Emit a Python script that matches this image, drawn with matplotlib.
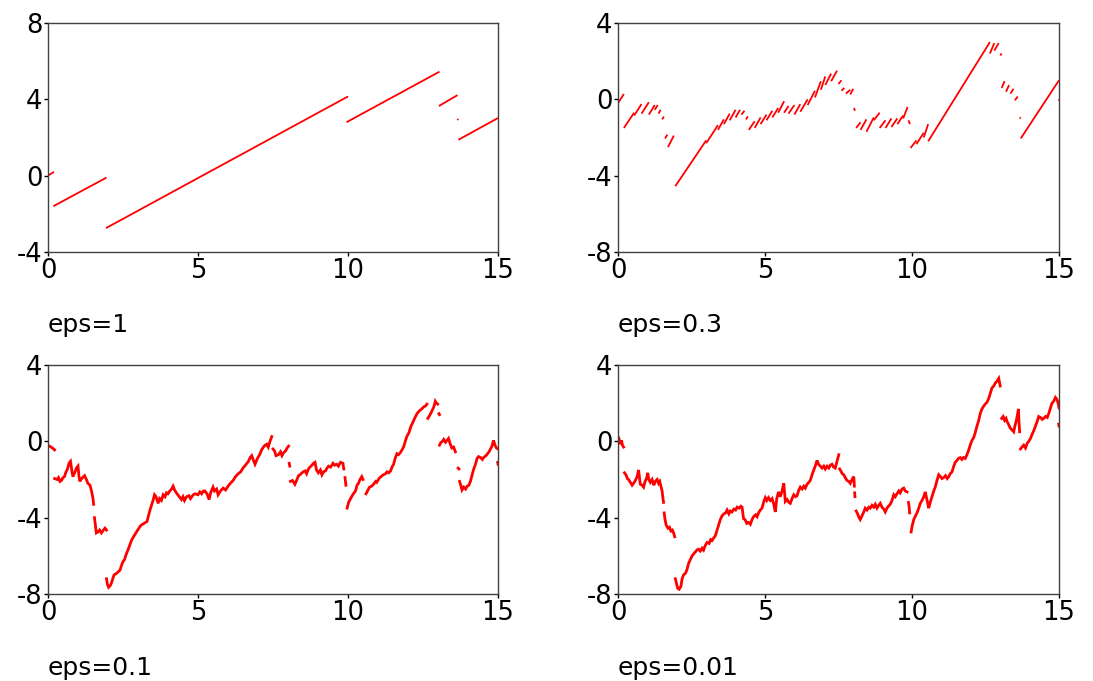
import numpy as np
import matplotlib
matplotlib.use("Agg")
import matplotlib.pyplot as plt

plt.rcParams['font.family'] = ['DejaVu Sans']
plt.rcParams['axes.unicode_minus'] = False

# ---------------- data ----------------
titles = ["eps=1", "eps=0.3", "eps=0.1", "eps=0.01"]
x_ticks = [0, 5, 10, 15]
y_ticks_1 = [-4, 0, 4, 8]
y_ticks_other = [-8, -4, 0, 4]

# panel eps=1 : straight pieces (x0, y0, x1, y1)
p1_x0 = [0.00, 0.18, 1.93, 9.95, 13.03, 13.64, 13.68]
p1_y0 = [0.00, -1.60, -2.75, 2.80, 3.65, 2.92, 1.88]
p1_x1 = [0.20, 1.95, 10.00, 13.05, 13.65, 13.68, 15.00]
p1_y1 = [0.20, -0.10, 4.15, 5.45, 4.22, 2.97, 3.02]

# panel eps=0.3 : short dashes (x0, y0, x1, y1)
p2_x0 = [0.00, 0.20, 0.55, 0.80, 1.05, 1.25, 1.38, 1.50, 1.60, 1.70,
         1.95, 3.00, 3.40, 3.60, 3.80, 4.00, 4.20, 4.35,
         4.45, 4.65, 4.85, 5.05, 5.25, 5.45, 5.65, 5.80, 6.00, 6.20, 6.45, 6.70, 6.90, 7.05, 7.25,
         7.50, 7.60, 7.75, 7.90, 8.03,
         8.10, 8.25, 8.45, 8.70, 8.90, 9.10, 9.30, 9.50, 9.70, 9.88,
         9.95, 10.15, 10.40, 10.55,
         12.65, 12.80, 13.00, 13.05, 13.20, 13.35, 13.50, 13.66, 13.70, 14.98]
p2_y0 = [-0.20, -1.50, -0.85, -0.75, -0.80, -0.55, -0.75, -1.05, -2.05, -2.50,
         -4.55, -2.30, -1.60, -1.30, -1.10, -0.95, -0.80, -1.05,
         -1.60, -1.50, -1.30, -1.10, -0.95, -0.70, -0.70, -0.75, -0.80, -0.65, -0.30, 0.10, 0.50, 0.75, 0.95,
         0.80, 0.45, 0.30, 0.25, -0.45,
         -1.50, -1.60, -1.70, -1.10, -1.50, -1.50, -1.45, -1.30, -1.00, -1.10,
         -2.55, -2.35, -2.00, -2.20,
         2.40, 2.55, 2.30, 0.60, 0.40, 0.30, -0.05, -0.95, -2.05, 0.00]
p2_x1 = [0.20, 0.55, 0.80, 1.05, 1.25, 1.35, 1.45, 1.56, 1.68, 1.90,
         3.00, 3.40, 3.60, 3.80, 4.00, 4.15, 4.30, 4.42,
         4.65, 4.85, 5.05, 5.25, 5.45, 5.65, 5.80, 6.00, 6.20, 6.45, 6.70, 6.90, 7.05, 7.25, 7.45,
         7.60, 7.70, 7.90, 8.00, 8.06,
         8.25, 8.45, 8.70, 8.90, 9.10, 9.30, 9.50, 9.70, 9.85, 9.93,
         10.15, 10.40, 10.55, 12.65,
         12.80, 12.95, 13.05, 13.15, 13.30, 13.45, 13.60, 13.70, 15.00, 15.00]
p2_y1 = [0.28, -0.70, -0.25, -0.15, -0.30, -0.30, -0.55, -0.90, -1.85, -1.90,
         -2.15, -1.35, -1.05, -0.75, -0.55, -0.55, -0.60, -0.90,
         -1.15, -0.95, -0.80, -0.60, -0.45, -0.10, -0.35, -0.30, -0.25, 0.00, 0.45, 0.95, 1.20, 1.35, 1.50,
         1.00, 0.60, 0.50, 0.55, -0.60,
         -1.20, -1.05, -0.95, -0.70, -1.10, -1.00, -1.00, -0.85, -0.40, -1.30,
         -2.15, -1.75, -1.30, 3.00,
         2.95, 2.95, 2.40, 0.95, 0.75, 0.55, 0.15, -1.00, 1.00, -0.05]

# panel eps=0.1 : continuous pieces
p3_x = [
    [0.00, 0.05, 0.10, 0.15, 0.22],
    [0.22, 0.30, 0.35, 0.40, 0.45, 0.50, 0.55, 0.60, 0.65, 0.70, 0.75, 0.80, 0.83, 0.90, 0.95, 1.00,
     1.03, 1.06, 1.10, 1.15, 1.22, 1.28, 1.33, 1.40, 1.45, 1.50, 1.52],
    [1.55, 1.58, 1.61, 1.67, 1.72, 1.78, 1.85, 1.90, 1.95],
    [1.95, 1.98, 2.02, 2.08, 2.12, 2.20, 2.30, 2.40, 2.45, 2.50, 2.55, 2.60, 2.70, 2.78, 2.85, 2.95,
     3.05, 3.10, 3.20, 3.30, 3.35, 3.40, 3.50, 3.55, 3.60, 3.67, 3.72, 3.78, 3.84, 3.90, 3.95, 4.00,
     4.06, 4.12, 4.17, 4.22, 4.28, 4.35, 4.45, 4.50, 4.55, 4.62, 4.70, 4.75, 4.84, 4.90, 5.00, 5.06,
     5.12, 5.18, 5.23, 5.30, 5.37, 5.42, 5.50, 5.55, 5.62, 5.67, 5.75, 5.84, 5.92, 6.00, 6.08, 6.17,
     6.25, 6.34, 6.42, 6.50, 6.58, 6.68, 6.74, 6.79, 6.85, 6.90, 6.98, 7.07, 7.12, 7.18, 7.24, 7.29,
     7.34, 7.40, 7.46],
    [7.50, 7.55, 7.60, 7.68, 7.75, 7.80, 7.85, 7.92, 7.97, 8.02],
    [8.04, 8.06],
    [8.08, 8.15, 8.23, 8.30, 8.35, 8.40, 8.50, 8.57, 8.62, 8.68, 8.73, 8.80, 8.85, 8.90, 8.95, 9.01,
     9.08, 9.13, 9.18, 9.25, 9.30, 9.35, 9.42, 9.50, 9.55, 9.62, 9.68, 9.75, 9.83, 9.86],
    [9.90, 9.93],
    [9.97, 10.02, 10.07, 10.12, 10.18, 10.25, 10.30, 10.35, 10.40, 10.46, 10.50],
    [10.60, 10.65, 10.72, 10.79, 10.85, 10.92, 10.96, 11.03, 11.10, 11.18, 11.25, 11.30, 11.36, 11.42,
     11.48, 11.52, 11.57, 11.63, 11.68, 11.74, 11.80, 11.85, 11.90, 11.96, 12.03, 12.10, 12.15, 12.22,
     12.30, 12.38, 12.46, 12.52, 12.58, 12.63],
    [12.66, 12.72, 12.80, 12.86, 12.91, 12.95, 12.99],
    [13.03, 13.05],
    [13.05, 13.10, 13.15, 13.19, 13.25, 13.30, 13.35, 13.40, 13.46, 13.52, 13.58],
    [13.67, 13.70],
    [13.72, 13.76, 13.80, 13.86, 13.92, 13.97, 14.03, 14.08, 14.13, 14.19, 14.25, 14.30, 14.35, 14.42,
     14.48, 14.52, 14.60, 14.65, 14.70, 14.75, 14.80, 14.85, 14.90, 14.95, 15.00],
    [14.99, 15.00],
]
p3_y = [
    [-0.20, -0.25, -0.30, -0.35, -0.45],
    [-1.95, -2.00, -1.90, -2.10, -2.05, -1.90, -1.85, -1.60, -1.45, -1.15, -1.05, -1.60, -1.85, -1.60,
     -1.40, -1.30, -1.80, -2.10, -2.00, -1.90, -1.80, -2.00, -2.20, -2.30, -2.60, -3.00, -3.30],
    [-4.00, -4.40, -4.80, -4.75, -4.65, -4.80, -4.65, -4.55, -4.65],
    [-7.20, -7.50, -7.65, -7.55, -7.40, -7.00, -6.90, -6.75, -6.50, -6.30, -6.20, -5.95, -5.55, -5.20,
     -5.00, -4.75, -4.50, -4.40, -4.30, -4.20, -3.90, -3.60, -3.10, -2.80, -2.90, -3.25, -3.00, -3.10,
     -2.80, -2.90, -2.70, -2.75, -2.60, -2.50, -2.35, -2.55, -2.70, -2.85, -3.05, -2.90, -3.10, -2.90,
     -2.85, -3.00, -2.80, -2.75, -2.80, -2.65, -2.75, -2.60, -2.60, -2.75, -3.05, -2.70, -2.40, -2.60,
     -2.50, -2.80, -2.60, -2.45, -2.55, -2.35, -2.20, -2.05, -1.85, -1.70, -1.60, -1.40, -1.25, -1.05,
     -0.85, -0.75, -1.00, -1.20, -0.90, -0.65, -0.45, -0.30, -0.20, -0.15, -0.30, 0.00, 0.25],
    [-0.40, -0.50, -0.75, -0.70, -0.55, -0.75, -0.60, -0.50, -0.35, -0.25],
    [-1.15, -1.30],
    [-2.10, -2.05, -2.25, -2.00, -1.80, -1.75, -1.60, -1.55, -1.70, -1.45, -1.35, -1.25, -1.15, -1.10,
     -1.50, -1.65, -1.50, -1.75, -1.60, -1.55, -1.40, -1.30, -1.35, -1.15, -1.25, -1.20, -1.30, -1.10,
     -1.15, -1.45],
    [-1.90, -2.30],
    [-3.50, -3.20, -3.05, -2.90, -2.75, -2.60, -2.30, -2.20, -2.00, -1.85, -2.00],
    [-2.75, -2.60, -2.40, -2.35, -2.25, -2.10, -2.15, -1.95, -1.85, -1.75, -1.70, -1.60, -1.65, -1.55,
     -1.30, -1.20, -0.90, -0.65, -0.70, -0.60, -0.45, -0.30, -0.05, 0.25, 0.45, 0.80, 0.95, 1.20, 1.45,
     1.60, 1.70, 1.80, 1.85, 1.95],
    [1.20, 1.35, 1.60, 1.80, 2.10, 2.00, 1.95],
    [1.45, 1.40],
    [-0.20, -0.05, 0.00, 0.10, -0.05, 0.05, 0.15, -0.10, -0.35, -0.30, -0.55],
    [-1.40, -1.45],
    [-2.10, -2.30, -2.55, -2.40, -2.50, -2.35, -2.30, -2.10, -1.80, -1.45, -1.20, -0.90, -0.80, -0.85,
     -0.95, -0.85, -0.75, -0.65, -0.55, -0.40, -0.25, 0.05, -0.20, -0.35, -0.40],
    [-1.10, -1.20],
]

# panel eps=0.01 : continuous pieces
p4_x = [
    [0.00, 0.04, 0.08, 0.12, 0.15, 0.19],
    [0.22, 0.27, 0.32, 0.36, 0.42, 0.48, 0.53, 0.59, 0.65, 0.70, 0.73, 0.76, 0.82, 0.87, 0.92, 0.97,
     1.01, 1.05, 1.10, 1.16, 1.22, 1.27, 1.33, 1.38, 1.42, 1.46, 1.50, 1.53, 1.55],
    [1.57, 1.60, 1.64, 1.70, 1.75, 1.80, 1.85, 1.89, 1.93],
    [1.95, 1.99, 2.03, 2.08, 2.14, 2.18, 2.23, 2.30, 2.35, 2.40, 2.46, 2.52, 2.57, 2.63, 2.68, 2.74,
     2.80, 2.86, 2.91, 2.97, 3.03, 3.10, 3.15, 3.20, 3.26, 3.31, 3.36, 3.42, 3.48, 3.54, 3.60, 3.66,
     3.71, 3.77, 3.82, 3.88, 3.94, 4.00, 4.05, 4.12, 4.18, 4.22, 4.27, 4.32, 4.38, 4.44, 4.50, 4.56,
     4.61, 4.68, 4.73, 4.78, 4.84, 4.90, 4.95, 5.01, 5.06, 5.12, 5.18, 5.24, 5.30, 5.35, 5.40, 5.46,
     5.52, 5.58, 5.64, 5.69, 5.75, 5.81, 5.86, 5.92, 5.98, 6.04, 6.09, 6.15, 6.20, 6.26, 6.32, 6.37,
     6.43, 6.49, 6.54, 6.60, 6.66, 6.72, 6.77, 6.82, 6.88, 6.94, 7.00, 7.05, 7.11, 7.17, 7.22, 7.28,
     7.33, 7.39, 7.45, 7.51],
    [7.54, 7.58, 7.63, 7.68, 7.73, 7.79, 7.85, 7.90, 7.96, 8.02, 8.04],
    [8.05, 8.06],
    [8.10, 8.15, 8.20, 8.24, 8.30, 8.36, 8.41, 8.47, 8.53, 8.58, 8.64, 8.70, 8.75, 8.81, 8.87, 8.92,
     8.98, 9.04, 9.09, 9.15, 9.20, 9.26, 9.32, 9.38, 9.43, 9.49, 9.55, 9.60, 9.66, 9.72, 9.77, 9.83],
    [9.88, 9.90, 9.92],
    [9.97, 10.01, 10.06, 10.12, 10.17, 10.23, 10.28, 10.34, 10.40, 10.45, 10.50, 10.57, 10.62, 10.68,
     10.74, 10.79, 10.85, 10.91, 10.97, 11.02, 11.08, 11.14, 11.20, 11.25, 11.30, 11.36, 11.41, 11.47,
     11.53, 11.58, 11.64, 11.70, 11.75, 11.81, 11.87, 11.93, 11.98, 12.04, 12.10, 12.15, 12.21, 12.27,
     12.32, 12.38, 12.44, 12.49, 12.55, 12.61, 12.66, 12.72, 12.78, 12.83, 12.89, 12.95, 13.00],
    [13.05, 13.10, 13.15, 13.20, 13.23, 13.28, 13.34, 13.40, 13.46, 13.50, 13.55, 13.60, 13.62, 13.64,
     13.66],
    [13.69, 13.74, 13.80, 13.86, 13.92, 13.97, 14.03, 14.08, 14.14, 14.20, 14.26, 14.31, 14.37, 14.43,
     14.48, 14.54, 14.60, 14.65, 14.71, 14.76, 14.82, 14.88, 14.93, 14.97, 15.00],
    [14.99, 15.00],
]
p4_y = [
    [0.00, 0.10, -0.15, 0.05, -0.20, -0.30],
    [-1.65, -1.75, -1.95, -2.00, -2.15, -2.30, -2.20, -2.05, -1.85, -1.50, -1.90, -2.25, -2.30, -2.40,
     -2.10, -1.95, -1.65, -2.00, -2.15, -2.00, -2.30, -2.10, -2.00, -2.20, -2.10, -2.35, -2.60, -3.00,
     -3.20],
    [-3.75, -4.10, -4.40, -4.55, -4.50, -4.70, -4.65, -4.80, -5.00],
    [-7.20, -7.45, -7.70, -7.75, -7.60, -7.20, -7.00, -6.90, -6.70, -6.40, -6.20, -6.00, -5.90, -5.80,
     -5.70, -5.65, -5.75, -5.60, -5.70, -5.45, -5.30, -5.35, -5.15, -5.20, -5.05, -4.95, -4.70, -4.40,
     -4.10, -3.90, -3.80, -3.75, -3.60, -3.80, -3.65, -3.70, -3.55, -3.60, -3.45, -3.50, -3.40, -3.45,
     -4.05, -4.10, -4.30, -4.25, -4.35, -4.10, -3.95, -3.85, -3.95, -3.75, -3.60, -3.50, -3.20, -2.95,
     -3.10, -2.95, -3.10, -3.00, -3.30, -3.70, -3.00, -2.65, -2.90, -2.60, -2.20, -3.15, -3.05, -3.20,
     -3.25, -3.00, -2.80, -2.90, -2.85, -2.55, -2.40, -2.50, -2.35, -2.45, -2.25, -2.15, -2.05, -1.75,
     -1.50, -1.25, -1.00, -1.20, -1.30, -1.40, -1.30, -1.45, -1.30, -1.40, -1.25, -1.20, -1.35, -1.40,
     -1.05, -0.70],
    [-1.45, -1.55, -1.70, -1.75, -1.90, -2.05, -2.10, -2.20, -2.00, -1.85, -2.35],
    [-2.70, -2.90],
    [-3.65, -3.80, -4.00, -4.10, -3.90, -3.70, -3.50, -3.60, -3.45, -3.50, -3.35, -3.45, -3.30, -3.50,
     -3.35, -3.25, -3.45, -3.55, -3.70, -3.50, -3.40, -3.30, -3.10, -2.80, -2.90, -2.75, -2.60, -2.70,
     -2.50, -2.45, -2.60, -2.65],
    [-3.20, -3.40, -3.75],
    [-4.75, -4.40, -4.10, -3.90, -3.75, -3.50, -3.25, -3.10, -2.90, -2.65, -3.00, -3.50, -3.20, -2.90,
     -2.60, -2.40, -2.05, -1.75, -1.85, -1.95, -1.90, -1.80, -1.95, -1.85, -1.70, -1.60, -1.35, -1.10,
     -1.00, -0.90, -0.85, -0.95, -0.85, -0.90, -0.70, -0.45, -0.20, 0.05, 0.20, 0.45, 0.80, 1.10, 1.45,
     1.70, 1.85, 1.95, 2.05, 2.25, 2.50, 2.80, 2.90, 3.05, 3.15, 3.30, 2.90],
    [1.20, 1.30, 1.10, 1.20, 1.05, 0.90, 0.70, 0.60, 0.50, 0.80, 1.10, 1.50, 1.70, 1.00, 0.50],
    [-0.40, -0.30, -0.20, -0.35, -0.10, 0.00, 0.15, 0.35, 0.55, 0.80, 1.05, 1.30, 1.25, 1.15, 1.20,
     1.30, 1.25, 1.45, 1.75, 2.00, 2.10, 2.30, 2.20, 2.00, 1.75],
    [0.90, 0.80],
]

# ---------------- figure ----------------
W, H = 1093, 681
fig = plt.figure(figsize=(W / 100, H / 100), dpi=100)
fig.patch.set_facecolor('white')

def frac_rect(l, t, r, b):
    return [l / W, 1 - b / H, (r - l) / W, (b - t) / H]

rects = [frac_rect(48, 23, 498, 252), frac_rect(618, 23, 1059, 252),
         frac_rect(48, 365, 498, 594), frac_rect(618, 365, 1059, 594)]
label_pos = [(48, 325), (618, 325), (48, 668), (618, 668)]

RED = '#ff0000'
axes = []
for i, r in enumerate(rects):
    ax = fig.add_axes(r)
    axes.append(ax)
    ax.set_xlim(0, 15)
    if i == 0:
        ax.set_ylim(-4, 8)
        ax.set_yticks(y_ticks_1)
    else:
        ax.set_ylim(-8, 4)
        ax.set_yticks(y_ticks_other)
    ax.set_xticks(x_ticks)
    ax.tick_params(direction='out', length=3, width=1, pad=1.0,
                   labelsize=18.5, colors='#000000')
    for s in ax.spines.values():
        s.set_color('#404040')
        s.set_linewidth(1.0)
    lx, ly = label_pos[i]
    fig.text(lx / W, 1 - ly / H, titles[i], fontsize=18, va='center', ha='left')

# panel 1
for x0, y0, x1, y1 in zip(p1_x0, p1_y0, p1_x1, p1_y1):
    axes[0].plot([x0, x1], [y0, y1], color=RED, lw=1.3, solid_capstyle='butt')

# panel 2
for x0, y0, x1, y1 in zip(p2_x0, p2_y0, p2_x1, p2_y1):
    axes[1].plot([x0, x1], [y0, y1], color=RED, lw=1.3, solid_capstyle='butt')

# panel 3 & 4
for ax, xs_list, ys_list in [(axes[2], p3_x, p3_y), (axes[3], p4_x, p4_y)]:
    for xs, ys in zip(xs_list, ys_list):
        ax.plot(xs, ys, color=RED, lw=2.0, solid_joinstyle='miter')

fig.savefig('out.png', dpi=100, facecolor='white')
